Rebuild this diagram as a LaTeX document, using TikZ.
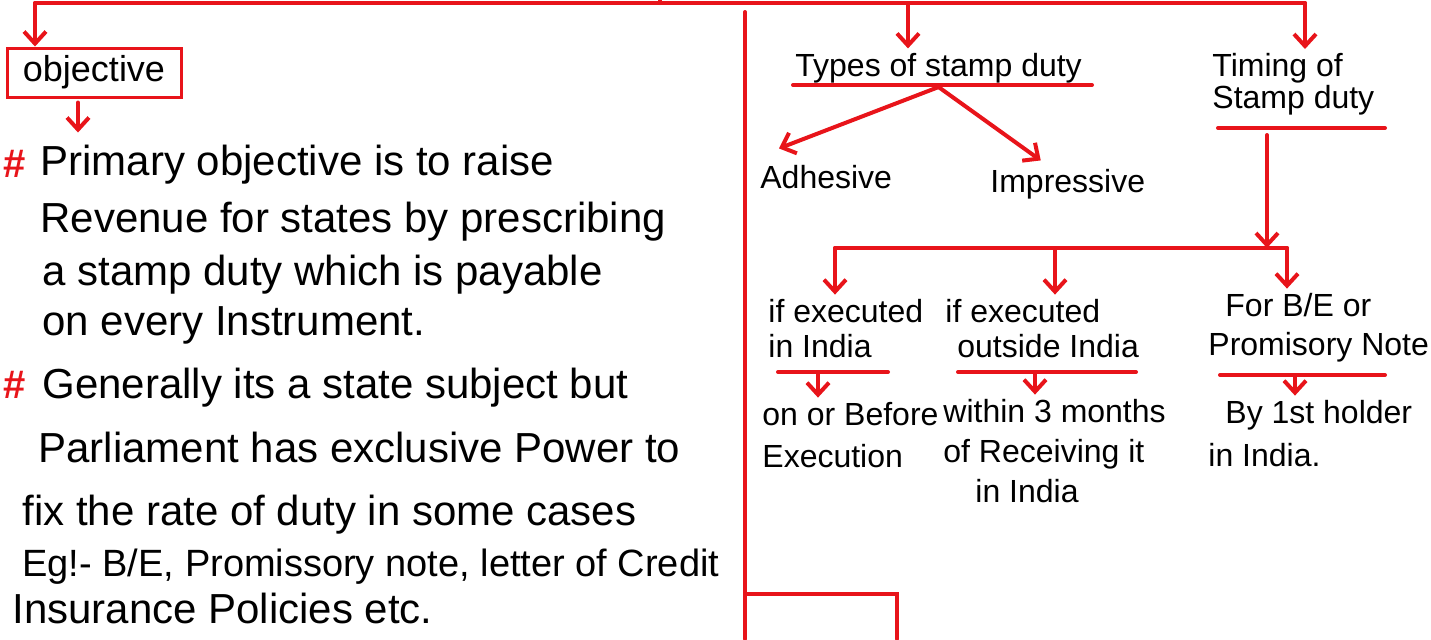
\documentclass[tikz,border=0pt]{standalone}
\usepackage{fontspec}
\setmainfont{Liberation Sans}
\usetikzlibrary{arrows.meta}
\definecolor{hred}{RGB}{232,20,26}
\begin{document}
\begin{tikzpicture}[x=0.5pt,y=-0.5pt,
  redl/.style={draw=hred,line width=2pt,line cap=round},
  arr/.style={redl,-{Straight Barb[length=6pt,width=11pt]}},
  lt/.style={anchor=base west,inner sep=0pt,font=\fontsize{21}{25}\selectfont},
  rl/.style={anchor=base west,inner xsep=0pt,inner ysep=2pt,font=\fontsize{16}{18}\selectfont},
  rt/.style={anchor=north west,inner xsep=0pt,inner ysep=2pt,align=left,font=\fontsize{16}{18}\selectfont},
  hash/.style={anchor=base west,inner sep=0pt,text=hred,font=\bfseries\fontsize{20}{22}\selectfont}]
\useasboundingbox (0,0) rectangle (1431,639);

% top bar
\coordinate (trunk) at (660,0);
\coordinate (tl) at (35,3);
\coordinate (tm) at (908,3);
\coordinate (tr) at (1305,3);
\draw[redl] (tl) -- (tr);
\draw[redl] (trunk) -- (trunk |- tl);

% objective
\node[draw=hred,line width=1.5pt,minimum width=87pt,minimum height=24.5pt,inner sep=2pt,font=\fontsize{18}{20}\selectfont] (obj) at (94,72.5) {objective};
\draw[arr] (tl) -- (tl |- obj.north);
\draw[arr] ([xshift=-8pt,yshift=-2pt]obj.south) -- ++(0,30);

\node[hash] (h1) at (3,177) {\#};
\node[lt] (l1) at (40,175) {Primary objective is to raise};
\node[lt] (l2) at (40,232) {Revenue for states by prescribing};
\node[lt] (l3) at (42,285) {a stamp duty which is payable};
\node[lt] (l4) at (42,335) {on every Instrument.};
\node[hash] (h2) at (3,398) {\#};
\node[lt] (l5) at (42,398) {Generally its a state subject but};
\node[lt] (l6) at (38,462) {Parliament has exclusive Power to};
\node[lt] (l7) at (22,525) {fix the rate of duty in some cases};
\node[lt,font=\fontsize{19}{22}\selectfont] (l8) at (22,576) {Eg!- B/E, Promissory note, letter of Credit};
\node[lt] (l9) at (12,623) {Insurance Policies etc.};

% divider
\coordinate (dv1) at (745,12);
\coordinate (dv2) at (745,639);
\draw[redl] (dv1) -- (dv2);
\coordinate (bx1) at (745,594);
\coordinate (bx2) at (897,639);
\draw[redl] (bx1) -| (bx2);

% types of stamp duty
\node[rl] (types) at (795,76) {Types of stamp duty};
\coordinate (tu1) at (793,85);
\coordinate (tu2) at (1092,85);
\draw[redl] (tu1) -- (tu2);
\draw[arr] (tm) -- (tm |- types.north);
\node[rl] (adh) at (760,188) {Adhesive};
\node[rl] (imp) at (990,192) {Impressive};
\draw[arr] (types.south) -- ([xshift=9.5pt,yshift=6pt]adh.north west);
\draw[arr] (types.south) -- ([xshift=-13.5pt,yshift=2pt]imp.north);

% timing
\node[rt,font=\fontsize{16}{16}\selectfont] (timing) at (1212,49) {Timing of\\Stamp duty};
\coordinate (tiu1) at (1218,128);
\coordinate (tiu2) at (1385,128);
\draw[redl] (tiu1) -- (tiu2);
\draw[arr] (tr) -- (tr |- timing.north);
\coordinate (tv) at (1267,135);
\coordinate (bar) at (1267,248);
\draw[arr] (tv) -- (bar);

% cases
\node[rt,font=\fontsize{16}{17.5}\selectfont] (c1) at (768,294.6) {if executed\\in India};
\node[rt,font=\fontsize{16}{17.5}\selectfont] (c2) at (945,294.6) {if executed\\\hspace*{6pt}outside India};
\node[rt,font=\fontsize{16}{19.5}\selectfont] (c3) at (1208,288.6) {\hspace*{8.5pt}For B/E or\\Promisory Note};
\coordinate (bl) at (835,248);
\coordinate (bm) at (1055,248);
\coordinate (br) at (1287,248);
\draw[redl] (bl) -- (br);
\draw[arr] (bl) -- (bl |- c1.north);
\draw[arr] (bm) -- (bm |- c2.north);
\draw[arr] (br) -- (br |- c3.north);

\coordinate (u1a) at (778,372);
\coordinate (u1b) at (888,372);
\coordinate (u1m) at (818,372);
\coordinate (u2a) at (958,372);
\coordinate (u2b) at (1136,372);
\coordinate (u2m) at (1035,372);
\coordinate (u3a) at (1220,375);
\coordinate (u3b) at (1385,375);
\coordinate (u3m) at (1295,375);
\draw[redl] (u1a) -- (u1b);
\draw[redl] (u2a) -- (u2b);
\draw[redl] (u3a) -- (u3b);

\node[rt,font=\fontsize{16}{21}\selectfont] (d1) at (762,397.6) {on or Before\\Execution};
\node[rt,font=\fontsize{16}{20}\selectfont] (d2) at (943,394.6) {within 3 months\\of Receiving it\\\hspace*{16pt}in India};
\node[rt,font=\fontsize{16}{21.5}\selectfont] (d3) at (1208,395.6) {\hspace*{8.5pt}By 1st holder\\in India.};
\draw[arr] (u1m) -- (u1m |- d1.north);
\draw[arr] (u2m) -- (u2m |- d2.north);
\draw[arr] (u3m) -- (u3m |- d3.north);
\end{tikzpicture}
\end{document}
